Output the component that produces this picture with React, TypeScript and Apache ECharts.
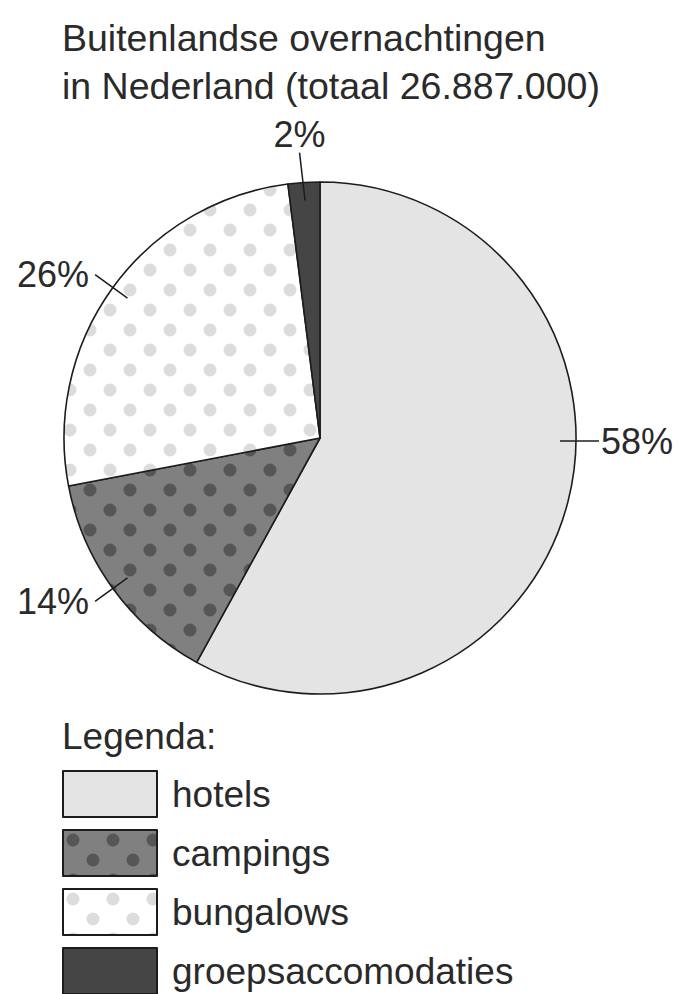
import React, { useEffect, useRef } from 'react';
import * as echarts from 'echarts';

const categories = ['hotels', 'campings', 'bungalows', 'groepsaccomodaties'];
const shares = [58, 14, 26, 2];
const shareLabels = ['58%', '14%', '26%', '2%'];
const titleLines = ['Buitenlandse overnachtingen', 'in Nederland (totaal 26.887.000)'];
const legendTitle = 'Legenda:';

const FONT = '"Liberation Sans", Arial, Helvetica, sans-serif';
const TEXT = '#2a2a2a';
const EDGE = '#1c1c1c';
const CX = 320;
const CY = 438;
const R = 256;

function dots(bg: string, dot: string) {
  const c = document.createElement('canvas');
  c.width = 40;
  c.height = 40;
  const ctx = c.getContext('2d')!;
  ctx.fillStyle = bg;
  ctx.fillRect(0, 0, 40, 40);
  ctx.fillStyle = dot;
  const pts = [[10, 10], [30, 30], [-10, 30], [50, 10]];
  for (const [x, y] of pts) {
    ctx.beginPath();
    ctx.arc(x, y, 6.5, 0, Math.PI * 2);
    ctx.fill();
  }
  return c;
}

export default function App() {
  const ref = useRef<HTMLDivElement>(null);
  useEffect(() => {
    if (!ref.current) return;
    const chart = echarts.init(ref.current, null, { renderer: 'svg' });
    const fills: any[] = [
      '#e4e4e4',
      { image: dots('#808080', '#565656'), repeat: 'repeat' },
      { image: dots('#ffffff', '#dcdcdc'), repeat: 'repeat' },
      '#454545',
    ];
    chart.setOption({
      animation: false,
      backgroundColor: '#ffffff',
      title: [
        {
          text: titleLines.join('\n'),
          left: 62,
          top: 14,
          padding: 0,
          textStyle: { fontSize: 37.5, fontWeight: 'normal', lineHeight: 48, color: TEXT, fontFamily: FONT },
        },
        {
          text: legendTitle,
          left: 62,
          top: 716,
          padding: 0,
          textStyle: { fontSize: 37, fontWeight: 'normal', lineHeight: 40, color: TEXT, fontFamily: FONT },
        },
      ],
      legend: {
        orient: 'vertical',
        left: 62,
        top: 770,
        height: 260,
        padding: 0,
        icon: 'rect',
        itemWidth: 94,
        itemHeight: 46,
        itemGap: 11,
        selectedMode: false,
        data: categories,
        formatter: (n: string) => '{a|' + n + '}',
        itemStyle: { borderColor: EDGE, borderWidth: 2 },
        textStyle: {
          fontSize: 37,
          lineHeight: 40,
          color: TEXT,
          fontFamily: FONT,
          rich: { a: { fontSize: 37, lineHeight: 40, color: TEXT, fontFamily: FONT, padding: [0, 0, 0, 10] } },
        },
      },
      series: [
        {
          type: 'pie',
          z: 2,
          center: [CX, CY],
          radius: R,
          startAngle: 90,
          clockwise: true,
          silent: true,
          label: { show: false },
          labelLine: { show: false },
          itemStyle: { borderColor: EDGE, borderWidth: 1.6 },
          emphasis: { disabled: true },
          data: categories.map((n, i) => ({ name: n, value: shares[i], itemStyle: { color: fills[i] } })),
        },
        {
          type: 'pie',
          z: 5,
          center: [CX, CY],
          radius: R - 18,
          startAngle: 90,
          clockwise: true,
          silent: true,
          avoidLabelOverlap: false,
          emphasis: { disabled: true },
          itemStyle: { color: 'rgba(0,0,0,0)', borderWidth: 0 },
          label: {
            show: true,
            position: 'outside',
            formatter: (p: any) => shareLabels[p.dataIndex],
            fontSize: 36,
            color: TEXT,
            fontFamily: FONT,
            distanceToLabelLine: 6,
          },
          labelLine: { show: true, length: 40, length2: 0, lineStyle: { color: EDGE, width: 1.5 } },
          labelLayout: (p: any) => {
            if (p.dataIndex === 0) {
              const y = CY + 3;
              const x0 = CX + R - 16;
              const x1 = CX + R + 23;
              return {
                x: x1 + 2,
                y,
                align: 'left',
                verticalAlign: 'middle',
                labelLinePoints: [[x0, y], [x1, y], [x1, y]],
              };
            }
            if (p.dataIndex === 3) {
              const pts = p.labelLinePoints;
              const end = pts[pts.length - 1];
              return { x: end[0] - 3, y: end[1] - 8, align: 'center', verticalAlign: 'bottom' };
            }
            return {};
          },
          data: categories.map((n, i) => ({ name: n, value: shares[i] })),
        },
      ],
    });
    return () => chart.dispose();
  }, []);
  return (
    <div
      ref={ref}
      style={{ position: 'absolute', left: 0, top: 0, width: 679, height: 994, background: '#fff' }}
    />
  );
}
